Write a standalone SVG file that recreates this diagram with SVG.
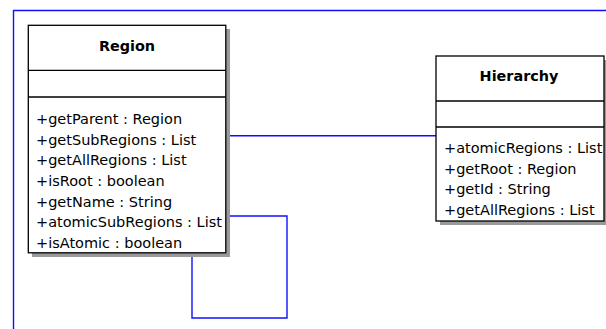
<svg xmlns="http://www.w3.org/2000/svg" width="606" height="329" viewBox="0 0 606 329">
<style>
.shadow{fill:#9a9a9a;stroke:none}
.box{fill:#fff;stroke:#000;stroke-width:1.3}
.sep{stroke:#000;stroke-width:1.3}
.title{font-family:"DejaVu Sans",sans-serif;font-weight:bold;font-size:14.4px;text-anchor:middle;fill:#000}
.op{font-family:"DejaVu Sans",sans-serif;font-size:14.5px;fill:#000}
.conn{fill:none;stroke:#1010ff;stroke-width:1.4}
</style>
<rect width="606" height="329" fill="#fff"/>
<g id="frame"><path class="conn" d="M13.5,329 V10.5 H606"/></g>
<g id="connectors">
<path class="conn" d="M226,135.7 H436"/>
<path class="conn" d="M226,216 H287 V318 H192 V253"/>
</g>
<g id="region">
<rect class="shadow" x="32" y="29" width="198" height="228"/>
<rect class="box" x="28.3" y="25.3" width="197.5" height="227.5"/>
<line class="sep" x1="28.3" y1="70.3" x2="225.8" y2="70.3"/>
<line class="sep" x1="28.3" y1="97" x2="225.8" y2="97"/>
<text class="title" x="127" y="50.5">Region</text>
<text class="op" x="36" y="124">+getParent : Region</text>
<text class="op" x="36" y="144.7">+getSubRegions : List</text>
<text class="op" x="36" y="165.3">+getAllRegions : List</text>
<text class="op" x="36" y="186">+isRoot : boolean</text>
<text class="op" x="36" y="206.7">+getName : String</text>
<text class="op" x="36" y="227.3">+atomicSubRegions : List</text>
<text class="op" x="36" y="248">+isAtomic : boolean</text>
</g>
<g id="hierarchy">
<rect class="shadow" x="440" y="60" width="170" height="165"/>
<rect class="box" x="436" y="56" width="168" height="165"/>
<line class="sep" x1="436" y1="101" x2="604" y2="101"/>
<line class="sep" x1="436" y1="127" x2="604" y2="127"/>
<text class="title" x="519" y="80.5">Hierarchy</text>
<text class="op" x="444" y="153">+atomicRegions : List</text>
<text class="op" x="444" y="173.7">+getRoot : Region</text>
<text class="op" x="444" y="194.3">+getId : String</text>
<text class="op" x="444" y="215">+getAllRegions : List</text>
</g>
</svg>
